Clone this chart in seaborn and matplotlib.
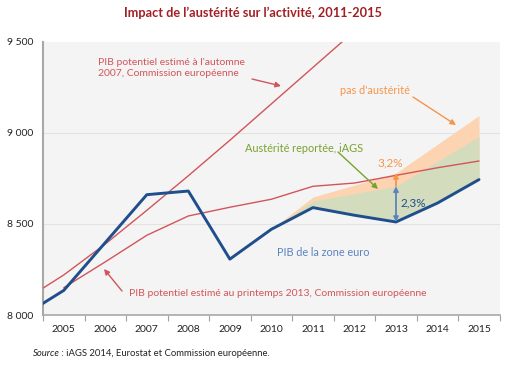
import matplotlib
matplotlib.use("Agg")
import matplotlib.pyplot as plt
import seaborn as sns
import pandas as pd

# ---- data ----
years = [2004, 2005, 2006, 2007, 2008, 2009, 2010, 2011, 2012, 2013, 2014, 2015]
pib_zone_euro = [7993, 8135, 8398, 8661, 8681, 8307, 8471, 8590, 8548, 8511, 8615, 8744]

years_pot2007 = [2004, 2005, 2006, 2007, 2008, 2009, 2010, 2011, 2012]
pib_pot_2007 = [8075, 8220, 8390, 8575, 8765, 8960, 9160, 9360, 9560]

years_pot2013 = [2005, 2006, 2007, 2008, 2009, 2010, 2011, 2012, 2013, 2014, 2015]
pib_pot_2013 = [8150, 8292, 8438, 8544, 8592, 8636, 8707, 8725, 8767, 8809, 8846]

years_scen = [2010, 2011, 2012, 2013, 2014, 2015]
austerite_reportee = [8471, 8626, 8666, 8707, 8844, 8981]
pas_austerite = [8471, 8648, 8714, 8780, 8938, 9096]

tick_years = [2005, 2006, 2007, 2008, 2009, 2010, 2011, 2012, 2013, 2014, 2015]
y_ticks = [8000, 8500, 9000, 9500]
y_labels = ["8 000", "8 500", "9 000", "9 500"]

title = "Impact de l\u2019aust\u00e9rit\u00e9 sur l\u2019activit\u00e9, 2011-2015"

# ---- style ----
sns.set_style("white")
plt.rcParams["font.family"] = ["Lato", "DejaVu Sans"]

RED = "#d2555a"
BLUE = "#1f4e8c"
LBLUE = "#5b83bf"
ORANGE = "#f5954a"
GREEN = "#7aa22f"

fig = plt.figure(figsize=(5.10, 3.68), dpi=100)
ax = fig.add_axes([0.0843, 0.144, 0.8957, 0.742])
ax.set_facecolor("#f4f4f4")

df_blue = pd.DataFrame({"year": years, "val": pib_zone_euro})
df_scen = pd.DataFrame({"year": years_scen, "green": austerite_reportee, "orange": pas_austerite})
blue_scen = df_blue.set_index("year").loc[years_scen, "val"].values

# fills
ax.fill_between(df_scen["year"], blue_scen, df_scen["orange"], color="#fcd4b2", lw=0, zorder=1)
ax.fill_between(df_scen["year"], blue_scen, df_scen["green"], color="#d4dcbe", lw=0, zorder=2)

for y in [8500, 9000]:
    ax.axhline(y, color="#e2e2e2", lw=0.8, zorder=0.5)

sns.lineplot(x=years_pot2007, y=pib_pot_2007, ax=ax, color=RED, lw=1.0, zorder=3)
sns.lineplot(x=years_pot2013, y=pib_pot_2013, ax=ax, color=RED, lw=1.0, zorder=3)
sns.lineplot(data=df_blue, x="year", y="val", ax=ax, color=BLUE, lw=2.1, zorder=4)

ax.set_xlim(2004.5, 2015.5)
ax.set_ylim(8000, 9500)
ax.set_xticks(tick_years)
ax.set_xticklabels([str(y) for y in tick_years], fontsize=7.5, color="#222222")
ax.set_xticks([y + 0.5 for y in [2004] + tick_years], minor=True)
ax.tick_params(axis="x", which="major", length=0, pad=7)
ax.tick_params(axis="x", which="minor", length=4, width=0.8, color="#a0a0a0", direction="out", bottom=True)
ax.set_yticks(y_ticks)
ax.set_yticklabels(y_labels, fontsize=7.5, color="#222222")
ax.tick_params(axis="y", length=0, pad=7)
ax.set_xlabel("")
ax.set_ylabel("")
for s in ["top", "right"]:
    ax.spines[s].set_visible(False)
ax.spines["left"].set_color("#a8a8a8")
ax.spines["left"].set_linewidth(1.5)
ax.spines["bottom"].set_color("#a8a8a8")
ax.spines["bottom"].set_linewidth(1.2)

# 2013 arrows
i13 = years_scen.index(2013)
b13 = blue_scen[i13]
g13 = austerite_reportee[i13]
o13 = pas_austerite[i13]
ax.annotate("", xy=(2013, g13), xytext=(2013, b13),
            arrowprops=dict(arrowstyle="<|-|>", color=LBLUE, lw=1.3, mutation_scale=7, shrinkA=0, shrinkB=0), zorder=6)
ax.annotate("", xy=(2013, o13), xytext=(2013, g13),
            arrowprops=dict(arrowstyle="-|>", color=ORANGE, lw=1.3, mutation_scale=7, shrinkA=0, shrinkB=0), zorder=6)
ax.text(2013.1, (b13 + g13) / 2 + 5, "2,3%", color=BLUE, fontsize=8.5, ha="left", va="center", zorder=7)
ax.text(2012.85, o13 + 55, "3,2%", color=ORANGE, fontsize=8.5, ha="center", va="center", zorder=7)

def fp(x, y):
    return (x / 510.0, 1 - y / 368.0)

kw_arrow = dict(arrowstyle="-|>", lw=1.0, mutation_scale=8, shrinkA=0, shrinkB=0)
ax.annotate("", xy=fp(281, 86), xytext=fp(252, 79), xycoords="figure fraction", textcoords="figure fraction",
            arrowprops=dict(color=RED, **kw_arrow))
fig.text(*fp(98, 68), "PIB potentiel estim\u00e9 \u00e0 l'automne\n2007, Commission europ\u00e9enne",
         color=RED, fontsize=7.5, ha="left", va="center", linespacing=1.15)

ax.annotate("", xy=fp(104, 269), xytext=fp(122, 291), xycoords="figure fraction", textcoords="figure fraction",
            arrowprops=dict(color=RED, **kw_arrow))
fig.text(*fp(129, 294), "PIB potentiel estim\u00e9 au printemps 2013, Commission europ\u00e9enne",
         color=RED, fontsize=7.5, ha="left", va="center")

fig.text(*fp(277, 253), "PIB de la zone euro", color=LBLUE, fontsize=7.8, ha="left", va="center")

ax.annotate("", xy=fp(456, 125), xytext=fp(413, 97), xycoords="figure fraction", textcoords="figure fraction",
            arrowprops=dict(color=ORANGE, **kw_arrow))
fig.text(*fp(340, 91), "pas d'aust\u00e9rit\u00e9", color=ORANGE, fontsize=7.8, ha="left", va="center")

ax.annotate("", xy=fp(378, 189), xytext=fp(338, 152), xycoords="figure fraction", textcoords="figure fraction",
            arrowprops=dict(color=GREEN, **kw_arrow))
fig.text(*fp(245, 148), "Aust\u00e9rit\u00e9 report\u00e9e, iAGS", color=GREEN, fontsize=7.8, ha="left", va="center")

fig.text(*fp(253, 13), title, color="#a31f24", fontsize=9.2, fontweight="bold", ha="center", va="center")

# source line
t1 = fig.text(*fp(33, 353), "Source", fontstyle="italic", fontsize=6.8, color="#222222", ha="left", va="center")
fig.canvas.draw()
bb = t1.get_window_extent()
fig.text((bb.x1 - 1) / fig.bbox.width, 1 - 353 / 368.0,
         " : iAGS 2014, Eurostat et Commission europ\u00e9enne.", fontsize=6.8, color="#222222",
         ha="left", va="center")

fig.savefig("out.png", dpi=100)
